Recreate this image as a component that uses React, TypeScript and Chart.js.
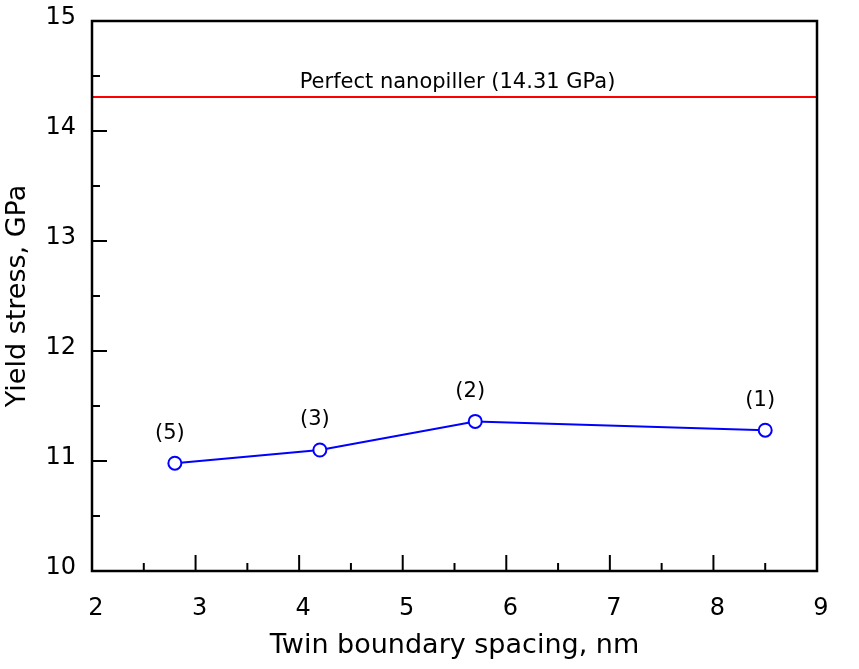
import { useEffect, useRef } from "react";
import { Chart, registerables } from "chart.js";

Chart.register(...registerables);

// Twin boundary spacing (nm) and yield stress (GPa)
const spacing = [2.8, 4.2, 5.7, 8.5];
const yieldStress = [10.98, 11.1, 11.36, 11.28];
const pointLabels = ["(5)", "(3)", "(2)", "(1)"];

const perfectStress = 14.31;
const perfectLabel = "Perfect nanopiller (14.31 GPa)";

const xTicks = [2, 3, 4, 5, 6, 7, 8, 9];
const xMinorTicks = [2.5, 3.5, 4.5, 5.5, 6.5, 7.5, 8.5];
const yTicks = [10, 11, 12, 13, 14, 15];
const yMinorTicks = [10.5, 11.5, 12.5, 13.5, 14.5];

const FONT = "'DejaVu Sans', sans-serif";

// frame, inward tick marks and text annotations
const decorations = {
  id: "decorations",
  afterDatasetsDraw(chart: any) {
    const { ctx, chartArea } = chart;
    const xs = chart.scales.x;
    const ys = chart.scales.y;
    const { left, right, top, bottom } = chartArea;

    ctx.save();
    ctx.strokeStyle = "#000";
    ctx.lineWidth = 2;
    const tick = (vals: number[], len: number, axis: "x" | "y") => {
      vals.forEach((v) => {
        ctx.beginPath();
        if (axis === "x") {
          const px = xs.getPixelForValue(v);
          ctx.moveTo(px, bottom);
          ctx.lineTo(px, bottom - len);
        } else {
          const py = ys.getPixelForValue(v);
          ctx.moveTo(left, py);
          ctx.lineTo(left + len, py);
        }
        ctx.stroke();
      });
    };
    tick(xTicks.slice(1, -1), 16, "x");
    tick(xMinorTicks, 8, "x");
    tick(yTicks.slice(1, -1), 15, "y");
    tick(yMinorTicks, 8, "y");

    ctx.lineWidth = 2.5;
    ctx.strokeRect(left, top, right - left, bottom - top);

    ctx.fillStyle = "#000";
    ctx.font = `21px ${FONT}`;
    ctx.textAlign = "center";
    ctx.textBaseline = "middle";
    spacing.forEach((x, i) => {
      ctx.fillText(
        pointLabels[i],
        xs.getPixelForValue(x) - 5,
        ys.getPixelForValue(yieldStress[i]) - 30
      );
    });
    ctx.fillText(
      perfectLabel,
      (left + right) / 2 + 3,
      ys.getPixelForValue(perfectStress) - 14
    );
    ctx.restore();
  },
};

export default function App() {
  const chartRef = useRef<HTMLCanvasElement>(null);
  const chartInstance = useRef<Chart | null>(null);

  useEffect(() => {
    if (!chartRef.current) return;
    if (chartInstance.current) chartInstance.current.destroy();
    const ctx = chartRef.current.getContext("2d");
    if (!ctx) return;

    chartInstance.current = new Chart(ctx, {
      type: "line",
      data: {
        datasets: [
          {
            label: "Perfect",
            data: [
              { x: xTicks[0], y: perfectStress },
              { x: xTicks[xTicks.length - 1], y: perfectStress },
            ],
            borderColor: "#ff0000",
            borderWidth: 2,
            pointRadius: 0,
          },
          {
            label: "Twinned",
            data: spacing.map((x, i) => ({ x, y: yieldStress[i] })),
            borderColor: "#0000ff",
            borderWidth: 2,
            pointRadius: 6.5,
            pointBorderWidth: 2,
            pointBackgroundColor: "#ffffff",
            pointBorderColor: "#0000ff",
          },
        ],
      },
      options: {
        animation: false,
        responsive: true,
        maintainAspectRatio: false,
        layout: { padding: { top: 21, right: 42, left: 0, bottom: 0 } },
        plugins: {
          legend: { display: false },
          tooltip: { enabled: false },
        },
        scales: {
          x: {
            type: "linear",
            min: xTicks[0],
            max: xTicks[xTicks.length - 1],
            afterFit: (scale: any) => {
              scale.height = 98;
              scale.paddingLeft = 0;
              scale.paddingRight = 0;
            },
            afterBuildTicks: (scale: any) => {
              scale.ticks = xTicks.map((value) => ({ value }));
            },
            grid: { display: false, drawTicks: false },
            border: { display: false },
            ticks: {
              padding: 23,
              labelOffset: 4,
              color: "#000",
              font: { family: FONT, size: 24 },
            },
            title: {
              display: true,
              text: "Twin boundary spacing, nm",
              color: "#000",
              font: { family: FONT, size: 27 },
              padding: { top: 0, bottom: 7 },
            },
          },
          y: {
            type: "linear",
            min: yTicks[0],
            max: yTicks[yTicks.length - 1],
            afterFit: (scale: any) => {
              scale.width = 92;
              scale.paddingTop = 0;
              scale.paddingBottom = 0;
            },
            afterBuildTicks: (scale: any) => {
              scale.ticks = yTicks.map((value) => ({ value }));
            },
            grid: { display: false, drawTicks: false },
            border: { display: false },
            ticks: {
              padding: 16,
              labelOffset: -3,
              color: "#000",
              font: { family: FONT, size: 24 },
            },
            title: {
              display: true,
              text: "Yield stress, GPa",
              color: "#000",
              font: { family: FONT, size: 27 },
              padding: { top: 2, bottom: 0 },
            },
          },
        },
      },
      plugins: [decorations],
    });

    return () => {
      if (chartInstance.current) {
        chartInstance.current.destroy();
        chartInstance.current = null;
      }
    };
  }, []);

  return (
    <div
      style={{
        position: "absolute",
        left: 0,
        top: 0,
        width: 859,
        height: 669,
        background: "#fff",
      }}
    >
      <canvas ref={chartRef} />
    </div>
  );
}
